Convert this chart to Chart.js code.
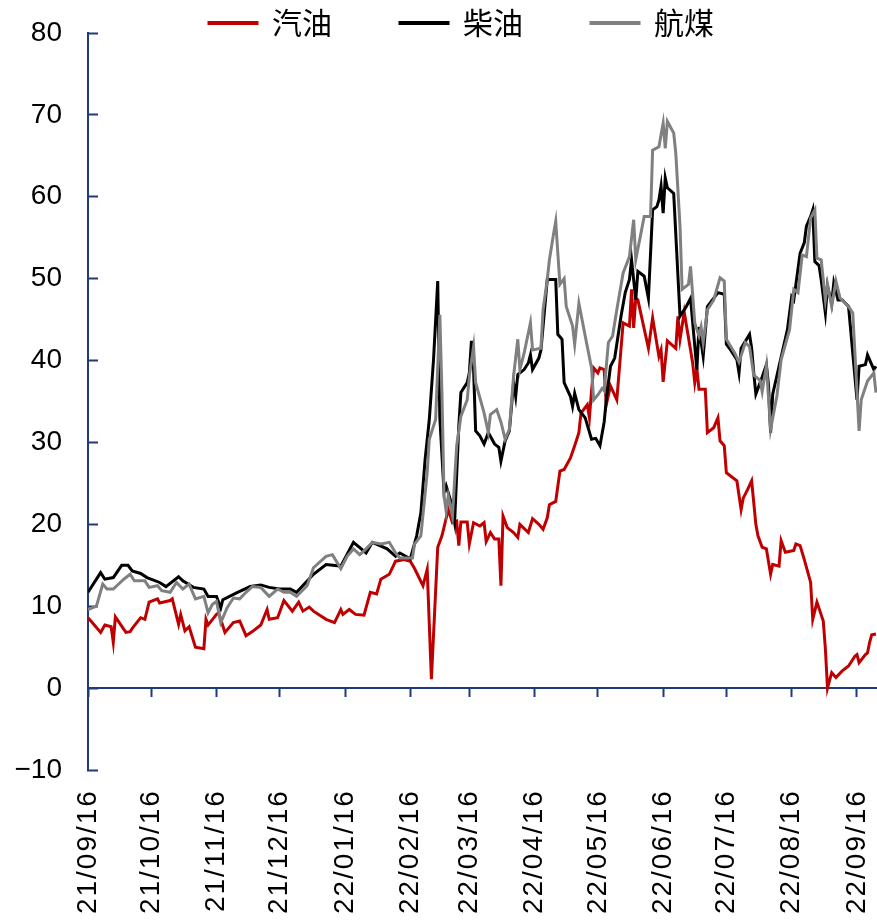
<!DOCTYPE html>
<html>
<head>
<meta charset="utf-8">
<script src="https://cdn.jsdelivr.net/npm/chart.js@4.4.0/dist/chart.umd.min.js"></script>
<style>
    html, body { margin: 0; padding: 0; background: #fff; }
    #wrap { width: 877px; height: 921px; }
</style>
</head>
<body>
<div id="wrap"><canvas id="crackChart"></canvas></div>
<script>
// x values are days counted from 2021-09-16
const START = Date.UTC(2021, 8, 16);

const tickLabels = ['21/09/16', '21/10/16', '21/11/16', '21/12/16', '22/01/16', '22/02/16',
    '22/03/16', '22/04/16', '22/05/16', '22/06/16', '22/07/16', '22/08/16', '22/09/16'];

const seriesNames = ['汽油', '柴油', '航煤'];

const gasoline = [
    [0, 8.6], [2, 8.0], [6, 6.8], [8, 7.7], [11, 7.5], [12, 5.6], [13, 8.7], [18, 6.8], [20, 6.9],
    [21, 7.3], [25, 8.6], [27, 8.4], [29, 10.5], [33, 10.9], [34, 10.4], [39, 10.7], [40, 10.9],
    [43, 7.8], [44, 9.0], [46, 7.0], [48, 7.5], [51, 5.0], [55, 4.8], [56, 8.4], [57, 7.7],
    [61, 9.0], [62, 9.2], [65, 6.8], [69, 8.0], [72, 8.2], [75, 6.4], [78, 6.9], [82, 7.7],
    [85, 9.6], [86, 8.4], [90, 8.6], [93, 10.7], [97, 9.4], [100, 10.5], [102, 9.4], [105, 9.9],
    [107, 9.4], [113, 8.4], [117, 8.0], [120, 9.6], [121, 9.0], [124, 9.6], [127, 9.0], [131, 8.9],
    [134, 11.7], [137, 11.5], [139, 13.3], [143, 13.9], [146, 15.5], [150, 15.7], [153, 15.5],
    [155, 14.6], [159, 12.5], [161, 14.5], [163, 1.1], [166, 17.2], [168, 18.6], [171, 21.8],
    [173, 20.2], [175, 20.4], [176, 17.4], [177, 20.3], [180, 20.3], [181, 17.6], [183, 20.2],
    [186, 19.8], [188, 20.2], [189, 17.9], [191, 19.0], [193, 18.2], [195, 18.2], [196, 12.5],
    [197, 21.0], [199, 19.6], [202, 19.0], [204, 18.4], [205, 20.0], [209, 19.0], [211, 20.7],
    [214, 20.0], [216, 19.4], [218, 20.8], [219, 22.4], [222, 22.8], [224, 26.5], [226, 26.7],
    [229, 28.1], [231, 29.6], [233, 31.2], [234, 33.6], [237, 34.6], [238, 33.0], [239, 36.3],
    [240, 39.1], [242, 38.5], [243, 39.1], [245, 38.9], [246, 34.6], [248, 36.9], [251, 35.2],
    [254, 44.6], [257, 44.2], [258, 48.7], [259, 44.0], [260, 47.6], [261, 47.4], [266, 41.5],
    [268, 45.2], [271, 40.5], [272, 41.3], [273, 37.4], [275, 42.4], [279, 41.5], [280, 45.4],
    [281, 42.6], [283, 45.9], [286, 41.3], [287, 39.7], [288, 37.3], [289, 39.0], [290, 36.5],
    [293, 36.5], [294, 31.2], [297, 31.8], [299, 33.0], [300, 30.2], [302, 29.6], [303, 26.3],
    [305, 25.9], [308, 25.3], [310, 21.8], [311, 23.2], [313, 24.2], [315, 25.3], [317, 20.0],
    [318, 18.6], [320, 17.2], [322, 17.0], [324, 13.9], [325, 15.1], [328, 14.9], [329, 18.0],
    [331, 16.6], [335, 16.8], [336, 17.6], [338, 17.4], [340, 15.7], [343, 12.9], [344, 8.4],
    [346, 10.5], [349, 8.2], [350, 4.8], [351, 0.0], [353, 1.9], [355, 1.3], [358, 2.1],
    [361, 2.7], [364, 3.9], [365, 4.1], [366, 3.1], [369, 4.1], [370, 4.3], [371, 5.6],
    [372, 6.5], [374, 6.6]
];

const diesel = [
    [0, 11.7], [6, 14.1], [8, 13.3], [12, 13.5], [16, 15.0], [19, 15.0], [21, 14.3], [25, 14.0],
    [28, 13.5], [34, 12.9], [37, 12.4], [43, 13.6], [45, 13.1], [50, 12.3], [55, 12.1], [57, 11.2],
    [61, 11.2], [63, 9.8], [64, 10.8], [71, 11.7], [77, 12.4], [82, 12.6], [86, 12.3], [91, 12.1],
    [96, 12.1], [99, 11.7], [107, 13.9], [113, 15.1], [120, 14.9], [126, 17.8], [132, 16.5],
    [135, 17.8], [142, 17.0], [146, 16.1], [148, 16.5], [153, 15.8], [156, 18.6], [158, 21.4],
    [160, 27.9], [162, 32.8], [164, 40.1], [166, 49.7], [167, 33.0], [169, 23.9], [170, 24.7],
    [172, 23.0], [174, 20.2], [176, 32.0], [177, 36.1], [180, 37.3], [181, 38.5], [182, 42.4],
    [183, 39.0], [184, 31.4], [186, 30.8], [188, 29.8], [190, 31.2], [193, 29.8], [195, 29.4],
    [196, 27.7], [198, 30.2], [200, 31.4], [202, 37.3], [203, 35.6], [204, 38.3], [207, 38.9],
    [209, 39.7], [210, 40.7], [211, 38.9], [214, 40.3], [215, 41.3], [218, 49.9], [222, 49.9],
    [223, 43.2], [225, 42.6], [226, 37.3], [229, 35.6], [230, 34.4], [231, 36.0], [233, 34.0],
    [236, 33.0], [239, 30.4], [241, 30.5], [243, 29.6], [245, 32.5], [246, 35.2], [248, 39.3],
    [250, 40.3], [253, 45.4], [255, 48.3], [257, 49.9], [258, 52.3], [260, 47.4], [261, 50.9],
    [264, 50.3], [266, 47.6], [268, 58.4], [270, 58.8], [271, 59.6], [272, 61.3], [273, 58.0],
    [274, 62.3], [275, 61.1], [278, 60.4], [281, 45.4], [284, 46.6], [286, 47.6], [289, 38.9],
    [290, 44.1], [292, 40.5], [294, 46.6], [299, 48.3], [302, 48.1], [303, 42.0], [305, 41.3],
    [308, 40.1], [309, 38.5], [310, 41.5], [314, 43.2], [315, 41.5], [316, 38.5], [317, 35.9],
    [320, 38.0], [322, 39.5], [323, 37.0], [324, 31.2], [325, 35.9], [328, 39.3], [332, 43.8],
    [334, 47.8], [335, 47.4], [338, 53.1], [340, 54.4], [341, 56.4], [343, 57.6], [344, 58.4],
    [345, 52.1], [347, 51.6], [348, 49.9], [350, 45.8], [351, 49.1], [353, 47.0], [354, 49.5],
    [356, 47.4], [358, 47.4], [361, 46.6], [365, 35.2], [366, 39.3], [369, 39.5], [370, 40.7],
    [373, 38.9], [374, 39.3]
];

const jetFuel = [
    [0, 9.6], [4, 10.0], [7, 12.7], [9, 12.1], [12, 12.1], [17, 13.3], [20, 13.9], [22, 13.1],
    [27, 13.1], [29, 12.3], [33, 12.5], [35, 11.9], [39, 11.7], [42, 12.9], [45, 12.1], [48, 12.7],
    [51, 10.9], [55, 11.2], [57, 9.2], [59, 10.2], [61, 10.6], [63, 8.0], [66, 9.8], [69, 11.0],
    [72, 10.9], [75, 11.7], [78, 12.4], [82, 12.3], [86, 11.2], [90, 12.1], [93, 11.7], [96, 11.7],
    [99, 11.2], [104, 12.5], [107, 14.7], [113, 16.1], [116, 16.3], [120, 14.6], [123, 16.1],
    [126, 17.0], [129, 16.3], [132, 17.0], [135, 17.8], [139, 17.6], [143, 17.8], [146, 16.5],
    [148, 15.9], [154, 15.9], [155, 17.6], [158, 18.6], [161, 26.3], [162, 30.4], [165, 32.8],
    [167, 45.6], [168, 36.1], [169, 23.5], [170, 21.6], [171, 23.5], [173, 21.0], [175, 29.6],
    [177, 33.2], [180, 35.2], [181, 38.1], [183, 41.7], [184, 37.3], [188, 33.6], [190, 31.2],
    [191, 33.4], [194, 34.0], [196, 32.5], [198, 30.4], [200, 31.6], [202, 38.1], [204, 42.6],
    [205, 38.9], [207, 40.9], [210, 44.6], [211, 41.3], [215, 41.5], [216, 46.2], [218, 49.9],
    [219, 52.3], [221, 55.5], [222, 57.0], [224, 49.3], [226, 50.0], [227, 46.6], [230, 44.2],
    [231, 42.0], [233, 47.0], [236, 43.0], [239, 39.1], [240, 35.2], [242, 35.8], [244, 36.6],
    [245, 36.3], [247, 42.2], [249, 43.0], [251, 46.2], [254, 50.7], [257, 52.7], [259, 57.2],
    [260, 52.3], [264, 57.6], [267, 57.6], [268, 65.7], [271, 66.1], [273, 69.0], [274, 65.9],
    [275, 69.2], [278, 67.8], [279, 65.3], [281, 56.4], [282, 48.7], [285, 49.3], [286, 51.5],
    [288, 44.6], [290, 43.0], [291, 44.1], [292, 42.2], [294, 46.2], [297, 47.4], [300, 50.1],
    [302, 49.7], [303, 42.6], [307, 40.9], [309, 39.8], [312, 42.2], [314, 41.7], [316, 38.2],
    [319, 37.6], [320, 36.2], [322, 39.4], [324, 31.6], [327, 35.7], [329, 40.1], [333, 43.8],
    [335, 48.7], [337, 48.3], [339, 52.9], [341, 52.7], [343, 57.4], [345, 58.4], [346, 52.5],
    [348, 52.3], [350, 47.4], [351, 49.3], [353, 46.6], [355, 49.7], [357, 47.6], [361, 46.6],
    [363, 45.8], [366, 31.4], [367, 35.2], [370, 37.5], [373, 38.5], [374, 36.1]
];

const AXIS_BLUE = '#1f3a78';
const LABEL_FONT = "'Liberation Sans', Arial, sans-serif";

function dayOf(label) {
    const [yy, mm, dd] = label.split('/').map(Number);
    return (Date.UTC(2000 + yy, mm - 1, dd) - START) / 86400000;
}

const tickDays = tickLabels.map(dayOf);
const toPoints = rows => rows.map(([x, y]) => ({ x: x, y: y }));

function makeDataset(name, rows, color, order) {
    return {
        label: name,
        data: toPoints(rows),
        borderColor: color,
        backgroundColor: color,
        borderWidth: 3,
        pointRadius: 0,
        tension: 0,
        order: order
    };
}

// date labels get a little tracking; the legend sits a bit right of centre
const chartTweaks = {
    id: 'chartTweaks',
    afterLayout(chart) {
        const legend = chart.legend;
        legend.left += 23;
        legend.right += 23;
        legend.bottom += 12;
    },
    afterDatasetsDraw(chart) { chart.ctx.letterSpacing = '2px'; },
    afterDraw(chart) { chart.ctx.letterSpacing = '0px'; }
};

new Chart(document.getElementById('crackChart'), {
    type: 'line',
    data: {
        datasets: [
            makeDataset(seriesNames[0], gasoline, '#c00000', 3),
            makeDataset(seriesNames[1], diesel, '#000000', 2),
            makeDataset(seriesNames[2], jetFuel, '#808080', 1)
        ]
    },
    plugins: [chartTweaks],
    options: {
        responsive: true,
        maintainAspectRatio: false,
        animation: false,
        layout: {
            padding: { top: -60, left: 0, right: 0, bottom: 151 }
        },
        plugins: {
            tooltip: { enabled: false },
            legend: {
                display: true,
                position: 'top',
                maxHeight: 93,
                labels: {
                    color: '#000',
                    boxWidth: 48,
                    boxHeight: 1,
                    padding: 68,
                    font: { family: "'Noto Sans CJK SC', sans-serif", size: 30 },
                    sort: (a, b) => a.datasetIndex - b.datasetIndex
                }
            }
        },
        scales: {
            x: {
                type: 'linear',
                position: { y: 0 },
                min: 0,
                max: 374.5,
                afterBuildTicks: scale => {
                    scale.ticks = tickDays.map(d => ({ value: d }));
                },
                afterFit: scale => {
                    scale.paddingLeft = 0;
                    scale.paddingRight = 0;
                },
                grid: {
                    display: true,
                    drawOnChartArea: false,
                    drawTicks: true,
                    tickLength: 8,
                    tickWidth: 2,
                    tickColor: AXIS_BLUE
                },
                border: { display: true, color: AXIS_BLUE, width: 2 },
                ticks: {
                    z: 1,
                    autoSkip: false,
                    minRotation: 90,
                    maxRotation: 90,
                    padding: 93,
                    color: '#000',
                    font: { family: LABEL_FONT, size: 28 },
                    callback: (value, index) => tickLabels[index]
                }
            },
            y: {
                position: 'left',
                min: -10,
                max: 80,
                afterFit: scale => {
                    scale.width = 88;
                    scale.paddingTop = 0;
                    scale.paddingBottom = 0;
                },
                grid: {
                    display: true,
                    drawOnChartArea: false,
                    drawTicks: true,
                    tickLength: -10,
                    tickWidth: 2,
                    tickColor: AXIS_BLUE
                },
                border: { display: true, color: AXIS_BLUE, width: 2 },
                ticks: {
                    stepSize: 10,
                    padding: 36,
                    color: '#000',
                    font: { family: LABEL_FONT, size: 28 },
                    callback: v => (v < 0 ? '\u2212' + Math.abs(v) : String(v))
                }
            }
        }
    }
});
</script>
</body>
</html>
